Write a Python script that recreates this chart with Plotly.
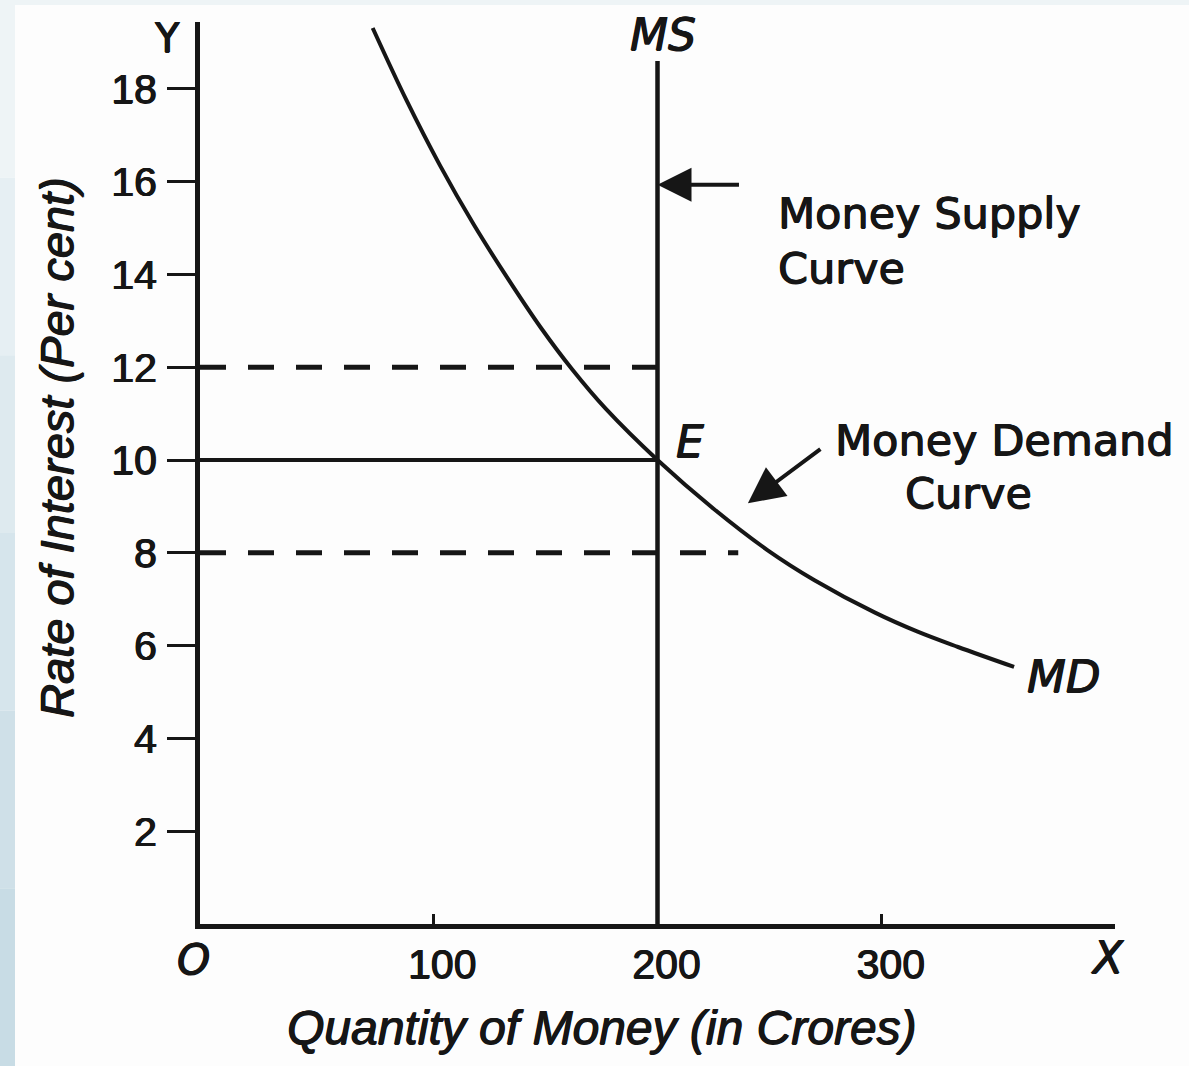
import plotly.graph_objects as go

# ---------------- data ----------------
md_quantity = [73, 88, 103, 118, 133, 148, 162, 177, 200, 225, 249, 270, 297, 316, 334, 359]
md_rate = [19.31, 17.76, 16.35, 15.08, 13.93, 12.85, 11.95, 11.10, 10.0, 8.95, 8.06, 7.41, 6.71, 6.30, 5.97, 5.54]

ms_quantity = 200
ms_rate_top = 18.6
equilibrium_rate = 10
high_rate = 12
low_rate = 8
low_rate_dash_end = 236

x_tick_vals = [100, 200, 300]
x_tick_text = ["100", "200", "300"]
y_tick_vals = [2, 4, 6, 8, 10, 12, 14, 16, 18]
y_tick_text = ["2", "4", "6", "8", "10", "12", "14", "16", "18"]

x_range = [-4, 404]
y_range = [0, 19.44]

# ---------------- layout helpers ----------------
W, H = 1189, 1066
L, R, T, B = 200, 1115, 22, 924


def px(xpix):
    return (xpix - L) / (R - L)


def py(ypix):
    return (B - ypix) / (B - T)


INK = "#161616"
LBL = "DejaVu Sans"
TCK = "Liberation Sans"
HEAVY = f"0.7px 0 0 {INK}, -0.5px 0 0 {INK}, 0 0.5px 0 {INK}"

fig = go.Figure()

# Money demand curve
fig.add_trace(go.Scatter(x=md_quantity, y=md_rate, mode="lines",
                         line=dict(color=INK, width=4, shape="spline", smoothing=1.0),
                         hoverinfo="skip"))
# Money supply curve
fig.add_trace(go.Scatter(x=[ms_quantity, ms_quantity], y=[0, ms_rate_top], mode="lines",
                         line=dict(color=INK, width=4.5), hoverinfo="skip"))
# Equilibrium rate line
fig.add_trace(go.Scatter(x=[x_range[0], ms_quantity], y=[equilibrium_rate, equilibrium_rate],
                         mode="lines", line=dict(color=INK, width=4), hoverinfo="skip"))
# Dashed lines at 12 and 8
fig.add_trace(go.Scatter(x=[x_range[0], ms_quantity], y=[high_rate, high_rate], mode="lines",
                         line=dict(color=INK, width=5, dash="26px,22px"), hoverinfo="skip"))
fig.add_trace(go.Scatter(x=[x_range[0], low_rate_dash_end], y=[low_rate, low_rate], mode="lines",
                         line=dict(color=INK, width=5, dash="26px,22px"), hoverinfo="skip"))

annotations = []


def txt(text, xpix, ypix, size, family=LBL, xanchor="left", italic=False, angle=0):
    t = f"<i>{text}</i>" if italic else text
    annotations.append(dict(text=t, x=px(xpix), y=py(ypix), xref="paper", yref="paper",
                            xanchor=xanchor, yanchor="middle", showarrow=False,
                            textangle=angle,
                            font=dict(family=family, size=size, color=INK, shadow=HEAVY)))


txt("Money Supply", 776, 213, 43)
txt("Curve", 776, 268, 43)
txt("Money Demand", 833, 440, 43)
txt("Curve", 903, 493, 43)
txt("E", 674, 442, 44, italic=True)
txt("MS", 628, 35, 44, italic=True)
txt("MD", 1025, 677, 45, italic=True)
txt("Y", 167, 38, 40, xanchor="center")
txt("O", 193, 960, 42, xanchor="center", italic=True)
txt("X", 1107, 957, 44, xanchor="center", italic=True)
txt("Quantity of Money (in Crores)", 602, 1027, 48, family=TCK, xanchor="center", italic=True)
txt("Rate of Interest (Per cent)", 56, 448, 47, family=TCK, xanchor="center", italic=True, angle=-90)

# Arrows
annotations.append(dict(x=ms_quantity, y=15.93, ax=237, ay=15.93, xref="x", yref="y",
                        axref="x", ayref="y", text="", showarrow=True, arrowhead=2,
                        arrowsize=1.7, arrowwidth=4, arrowcolor=INK))
annotations.append(dict(x=240.3, y=9.07, ax=273.3, ay=10.26, xref="x", yref="y",
                        axref="x", ayref="y", text="", showarrow=True, arrowhead=2,
                        arrowsize=1.8, arrowwidth=4, arrowcolor=INK))

# Decorative page border (left and top strips)
shapes = []
strip_cols = ["#eef4f6", "#e6eff3", "#deeaef", "#d6e5ec", "#cfe0e8", "#c8dce5"]
n = len(strip_cols)
for i, c in enumerate(strip_cols):
    y0 = 0 + i * H / n
    y1 = (i + 1) * H / n
    shapes.append(dict(type="rect", xref="paper", yref="paper", x0=px(0), x1=px(15),
                       y0=py(y1), y1=py(y0), fillcolor=c, line=dict(width=0), layer="below"))
shapes.append(dict(type="rect", xref="paper", yref="paper", x0=px(15), x1=px(W),
                   y0=py(5), y1=py(0), fillcolor="#eef4f6", line=dict(width=0), layer="below"))

fig.update_layout(
    width=W, height=H,
    margin=dict(l=L, r=W - R, t=T, b=H - B, pad=0),
    paper_bgcolor="#fdfdfd", plot_bgcolor="#fdfdfd",
    showlegend=False,
    annotations=annotations,
    shapes=shapes,
    xaxis=dict(range=x_range, tickvals=x_tick_vals, ticktext=x_tick_text,
               showgrid=False, zeroline=False, showline=True, linecolor=INK, linewidth=5,
               ticks="inside", ticklen=10, tickwidth=3, tickcolor=INK,
               ticklabelshift=9,
               tickfont=dict(family=TCK, size=41, color=INK, shadow=HEAVY), fixedrange=True),
    yaxis=dict(range=y_range, tickvals=y_tick_vals, ticktext=y_tick_text,
               showgrid=False, zeroline=False, showline=True, linecolor=INK, linewidth=5,
               ticks="outside", ticklen=28, tickwidth=3, tickcolor=INK,
               ticklabelstandoff=2,
               tickfont=dict(family=TCK, size=41, color=INK, shadow=HEAVY), fixedrange=True),
)

fig.write_html("out.html", config={"displayModeBar": False},
               post_script="document.body.style.margin='0';document.body.style.overflow='hidden';")
